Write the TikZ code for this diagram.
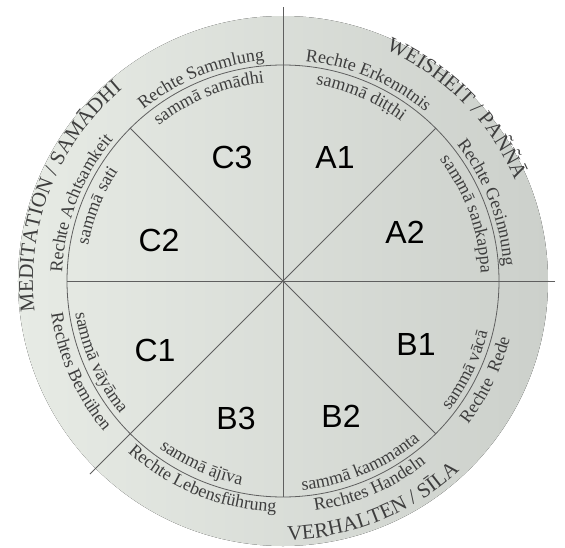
\documentclass[tikz,border=0pt]{standalone}
\usepackage{fontspec}
\setmainfont{Liberation Serif}
\newfontfamily\segfont{Liberation Sans}
\usepackage{xcolor}
\usetikzlibrary{decorations.text}
\definecolor{ink}{RGB}{62,62,62}
\definecolor{rim}{RGB}{95,95,95}
\definecolor{diskL}{RGB}{231,235,229}
\definecolor{diskR}{RGB}{204,208,203}
\newcommand\ringfont{\fontsize{18}{21}\selectfont\color{ink}}
\newcommand\groupfont{\fontsize{21}{25}\selectfont\color{ink}}

\begin{document}
\begin{tikzpicture}[x=1pt, y=1pt,
    spoke/.style={draw=rim, line width=0.8pt},
    seg/.style={font=\segfont\fontsize{32}{36}\selectfont, inner sep=0pt},
    ringtext/.style={decorate, decoration={text along path, text align=center,
                     text={|\ringfont|#1}}},
    grouptext/.style={decorate, decoration={text along path, text align={fit to path},
                      text={|\groupfont|#1}}}
]
\fill[white] (-283,-266) rectangle (282,281);
\useasboundingbox (-283,-266) rectangle (282,281);
\fill[left color=diskL, right color=diskR] (0,0) circle (265);

\coordinate (hub) at (0,0);
\draw[spoke] (hub) circle (216);
\draw[spoke] (90:274) -- (270:216);
\draw[spoke] (0:272) -- (180:216);
\draw[spoke] (225:273) -- (45:216);
\draw[spoke] (135:216) -- (315:216);

\path[grouptext={WEISHEIT / PAÑÑĀ}] (66:253) arc[start angle=66, end angle=24, radius=253];
\path[grouptext={MEDITATION / SAMĀDHI}] (187:250) arc[start angle=187, end angle=130, radius=250];
\path[grouptext={VERHALTEN / SĪLA}] (271:259) arc[start angle=271, end angle=313, radius=259];

\path[ringtext={Rechte Sammlung}] (152:221) arc[start angle=152, end angle=72, radius=221];
\path[ringtext={sammā samādhi}] (152:199) arc[start angle=152, end angle=72, radius=199];
\path[ringtext={Rechte Erkenntnis}] (107:221) arc[start angle=107, end angle=27, radius=221];
\path[ringtext={sammā diṭṭhi}] (107:199) arc[start angle=107, end angle=27, radius=199];
\path[ringtext={Rechte Gesinnung}] (61:221) arc[start angle=61, end angle=-19, radius=221];
\path[ringtext={sammā sankappa}] (60:198) arc[start angle=60, end angle=-20, radius=198];
\path[ringtext={Rechte Achtsamkeit}] (199:221) arc[start angle=199, end angle=119, radius=221];
\path[ringtext={sammā sati}] (198:198) arc[start angle=198, end angle=118, radius=198];

\path[ringtext={Rechtes Bemühen}] (164:234) arc[start angle=164, end angle=244, radius=234];
\path[ringtext={sammā vāyāma}] (164:210) arc[start angle=164, end angle=244, radius=210];
\path[ringtext={Rechte Lebensführung}] (208:231) arc[start angle=208, end angle=288, radius=231];
\path[ringtext={sammā ājīva}] (206:208) arc[start angle=206, end angle=286, radius=208];
\path[ringtext={Rechtes Handeln}] (253:232) arc[start angle=253, end angle=333, radius=232];
\path[ringtext={sammā kammanta}] (253:210) arc[start angle=253, end angle=333, radius=210];
\path[ringtext={Rechte\ \ Rede}] (294:234) arc[start angle=294, end angle=374, radius=234];
\path[ringtext={sammā vācā}] (294:211) arc[start angle=294, end angle=374, radius=211];

\node[seg] (c3) at (-51,124) {C3};
\node[seg] (a1) at (52,124) {A1};
\node[seg] (c2) at (-124,41) {C2};
\node[seg] (a2) at (122,49) {A2};
\node[seg] (c1) at (-128,-69) {C1};
\node[seg] (b1) at (133,-63) {B1};
\node[seg] (b3) at (-47,-137) {B3};
\node[seg] (b2) at (58,-135) {B2};
\end{tikzpicture}
\end{document}
